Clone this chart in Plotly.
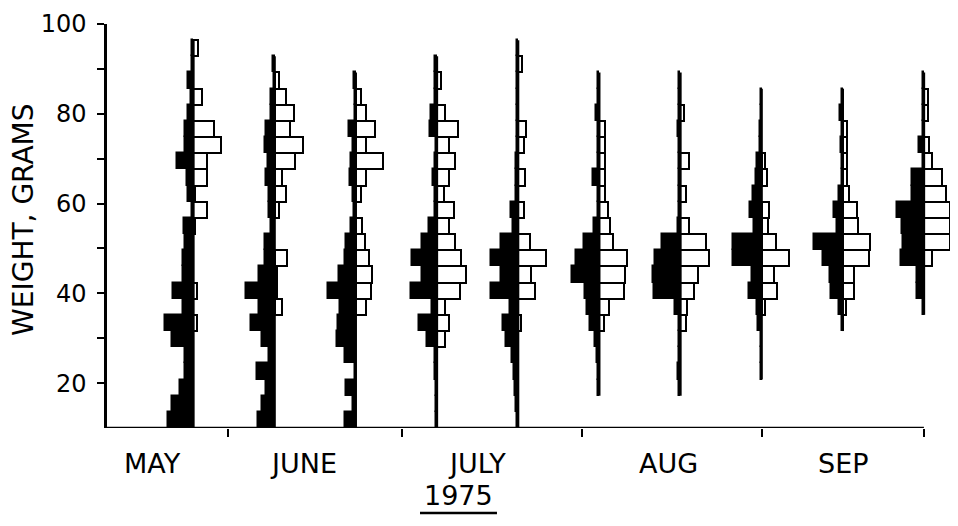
import datetime as dt
import plotly.graph_objects as go

# ---------------- data ----------------
# weight classes (bin centres, grams); each class is 3.6 g wide, starting at 10 g
weight_bins = [11.8, 15.4, 19.0, 22.6, 26.2, 29.8, 33.4, 37.0, 40.6, 44.2,
               47.8, 51.4, 55.0, 58.6, 62.2, 65.8, 69.4, 73.0, 76.6, 80.2,
               83.8, 87.4, 91.0, 94.6, 98.2]
BIN_WIDTH = 3.6

sample_dates = ["1975-05-26", "1975-06-09", "1975-06-23", "1975-07-07", "1975-07-21",
                "1975-08-04", "1975-08-18", "1975-09-01", "1975-09-15", "1975-09-29"]

# relative frequency per weight class (solid = left-hand histogram, open = right-hand)
solid_0526 = [25.7, 21.7, 13.3, 8.3, 8.3, 21.7, 29, 10, 20.7, 10, 10, 8, 9, 1, 5.7, 6.7, 16.7, 8.3, 8.3, 5, 2, 5.7, 1, 1, 0]
open_0526  = [0, 0, 0, 0, 0, 0, 4, 0, 3.3, 0, 0, 0, 1.5, 13.3, 2, 13.3, 13.3, 27.3, 21, 0, 8.3, 0, 0, 4.3, 0]
solid_0609 = [16.7, 12.3, 9, 17.3, 5.7, 12.3, 23.3, 15.7, 29, 15.7, 10, 10, 4, 5.7, 5.7, 9, 6.7, 10, 9, 4, 4, 1, 2, 0, 0]
open_0609  = [0, 0, 0, 0, 0, 0, 0, 7.7, 2.7, 2.7, 12.7, 0, 0, 4.3, 11, 7.7, 21, 28.7, 16, 19.3, 12, 4.3, 0, 0, 0]
solid_0623 = [10.3, 2.7, 9.3, 1, 11, 19.3, 18.3, 16, 27.7, 17, 11, 9.3, 5, 1.7, 2.7, 6, 5, 2.7, 7, 1, 1, 2, 0, 0, 0]
open_0623  = [0, 0, 0, 0, 0, 0, 0, 10.7, 15, 16.3, 13, 9.7, 6.3, 0, 5.7, 10.7, 27.3, 10.7, 19.7, 10.7, 5.7, 0, 0, 0, 0]
solid_0707 = [1, 1, 1, 2, 2.3, 10, 17.7, 5, 25.7, 15, 25, 15, 8.3, 2.3, 2.3, 4.3, 2.3, 1, 6.7, 5.7, 2, 2.3, 2, 0, 0]
open_0707  = [0, 0, 0, 0, 0, 8.3, 12.3, 8.3, 23.3, 29, 24.3, 17.7, 11.7, 16.7, 6.7, 11.7, 17.7, 11.7, 21.7, 7.7, 0, 4, 0, 0, 0]
solid_0721 = [1, 2.3, 3.3, 4.3, 5.7, 11.7, 15, 8.3, 27.7, 16.7, 27.7, 16.7, 5, 6.7, 2, 2, 2, 1, 1, 1, 1, 1, 1, 1, 0]
open_0721  = [0, 0, 0, 0, 0, 0, 3, 0, 16.7, 13.3, 28.3, 11.7, 0, 5.7, 0, 6.7, 0, 5.7, 8.3, 0, 0, 0, 4, 0, 0]
solid_0804 = [0, 0, 1, 1, 2.3, 4, 9.7, 12.3, 14, 27.3, 23, 15.7, 5.7, 1, 1, 6.3, 1, 1, 1, 3.3, 1.3, 1, 0, 0, 0]
open_0804  = [0, 0, 0, 0, 0, 0, 5, 10.3, 25, 26, 28.3, 14.3, 11, 9.3, 6, 6, 6, 6, 6, 0, 0, 0, 0, 0, 0]
solid_0818 = [0, 0, 1, 2.3, 1, 1, 1, 5.7, 26.7, 28, 25.7, 19, 2.3, 1, 1, 1, 1, 1, 2, 1, 1, 1.5, 0, 0, 0]
open_0818  = [0, 0, 0, 0, 0, 0, 5.3, 6.7, 13.3, 17.7, 28.7, 26, 8.7, 0, 6, 0, 9, 0, 0, 4, 0, 0, 0, 0, 0]
solid_0901 = [0, 0, 0, 1, 1, 1, 3.3, 5, 12.7, 9.3, 28.3, 28.3, 8, 11.7, 8.3, 6, 5, 2, 2, 1, 1, 0, 0, 0, 0]
open_0901  = [0, 0, 0, 0, 0, 0, 0, 3.3, 16, 12.7, 27.3, 15, 6.7, 7.3, 0, 5, 3.3, 0, 0, 0, 0, 0, 0, 0, 0]
solid_0915 = [0, 0, 0, 0, 0, 0, 1, 3.3, 11.7, 13.3, 20, 29, 5.7, 9, 3.3, 1, 1, 2, 1, 2.3, 1, 0, 0, 0, 0]
open_0915  = [0, 0, 0, 0, 0, 0, 0, 3.3, 11, 11.7, 26.7, 27.7, 15.7, 14.3, 6.7, 4.3, 4.3, 4.3, 4, 0, 0, 0, 0, 0, 0]
solid_0929 = [0, 0, 0, 0, 0, 0, 0, 1, 6.7, 6.7, 23.3, 20.7, 21.7, 27.3, 11.7, 11.7, 1, 5, 1, 1, 1, 1, 0, 0, 0]
open_0929  = [0, 0, 0, 0, 0, 0, 0, 0, 0, 0, 8.3, 26.7, 26.7, 26.7, 22.7, 18.3, 8.3, 5, 0, 4, 4, 0, 0, 0, 0]

solid_series = [solid_0526, solid_0609, solid_0623, solid_0707, solid_0721,
                solid_0804, solid_0818, solid_0901, solid_0915, solid_0929]
open_series = [open_0526, open_0609, open_0623, open_0707, open_0721,
               open_0804, open_0818, open_0901, open_0915, open_0929]

axis_start = "1975-05-12"
month_boundaries = ["1975-06-01", "1975-07-01", "1975-08-01", "1975-09-01", "1975-09-29"]
month_names = ["MAY", "JUNE", "JULY", "AUG", "SEP"]
month_label_dates = ["1975-05-19", "1975-06-14", "1975-07-14", "1975-08-16", "1975-09-15"]
year_label = "1975"
y_tick_values = [20, 30, 40, 50, 60, 70, 80, 90, 100]
y_tick_text = ["20", "", "40", "", "60", "", "80", "", "100"]

# ---------------- helpers ----------------
ORIGIN = dt.date(1975, 5, 1)


def day_of(s):
    return (dt.date.fromisoformat(s) - ORIGIN).days


FREQ_TO_DAYS = 1 / 5.83  # horizontal scale: frequency unit -> days on the time axis
FONT = "DejaVu Sans"
X0 = day_of(axis_start) - 0.9
X_END = day_of(month_boundaries[-1])

fig = go.Figure()

sy, sx, sb = [], [], []
oy, ox, ob = [], [], []
line_x, line_y = [], []
for date, solid, opn in zip(sample_dates, solid_series, open_series):
    d = day_of(date)
    used = []
    for w, s, o in zip(weight_bins, solid, opn):
        if s > 0:
            sy.append(w); sx.append(s * FREQ_TO_DAYS); sb.append(d - s * FREQ_TO_DAYS)
        if o > 0:
            oy.append(w); ox.append(o * FREQ_TO_DAYS); ob.append(d)
        if s > 0 or o > 0:
            used.append(w)
    line_x += [d, d, None]
    line_y += [min(used) - BIN_WIDTH / 2, max(used) + BIN_WIDTH / 2, None]

fig.add_trace(go.Bar(orientation="h", y=sy, x=sx, base=sb, width=BIN_WIDTH,
                     marker=dict(color="black", line=dict(color="black", width=1.5)),
                     showlegend=False, hoverinfo="skip"))
fig.add_trace(go.Bar(orientation="h", y=oy, x=ox, base=ob, width=BIN_WIDTH,
                     marker=dict(color="white", line=dict(color="black", width=2)),
                     showlegend=False, hoverinfo="skip"))
fig.add_trace(go.Scatter(x=line_x, y=line_y, mode="lines",
                         line=dict(color="black", width=2.5),
                         showlegend=False, hoverinfo="skip"))

annotations = []
for name, ld in zip(month_names, month_label_dates):
    annotations.append(dict(x=day_of(ld), xref="x", y=-0.0891, yref="paper",
                            text=name, showarrow=False, xanchor="center", yanchor="middle",
                            font=dict(family=FONT, size=27, color="black")))
annotations.append(dict(x=0.4164, xref="paper", y=-0.1683, yref="paper", text=year_label,
                        showarrow=False, xanchor="center", yanchor="middle",
                        font=dict(family=FONT, size=27, color="black")))
annotations.append(dict(x=-0.0985, xref="paper", y=0.515, yref="paper", text="WEIGHT, GRAMS",
                        showarrow=False, textangle=-90, xanchor="center", yanchor="middle",
                        font=dict(family=FONT, size=28, color="black")))

fig.update_layout(
    width=942, height=510, autosize=False,
    margin=dict(l=99, r=0, t=16, b=90, autoexpand=False),
    paper_bgcolor="white", plot_bgcolor="white",
    barmode="overlay", bargap=0,
    annotations=annotations,
    shapes=[
        # x axis line ends at the last sampling date
        dict(type="line", xref="x", yref="y", x0=X0, x1=X_END, y0=10, y1=10,
             line=dict(color="black", width=2.5)),
        # underline of the year
        dict(type="line", xref="paper", yref="paper", x0=0.3713, x1=0.4626,
             y0=-0.2104, y1=-0.2104, line=dict(color="black", width=2.5)),
    ],
    xaxis=dict(range=[X0, 155.5], showgrid=False, zeroline=False,
               showline=False, automargin=False,
               tickmode="array", tickvals=[day_of(m) for m in month_boundaries],
               ticks="outside", ticklen=8, tickwidth=2, tickcolor="black",
               showticklabels=False),
    yaxis=dict(range=[10, 100], showgrid=False, zeroline=False,
               showline=True, linecolor="black", linewidth=2.5, automargin=False,
               tickmode="array", tickvals=y_tick_values, ticktext=y_tick_text,
               ticks="outside", ticklen=7, tickwidth=2, tickcolor="black",
               ticklabelstandoff=6, ticklabeloverflow="allow",
               tickfont=dict(family=FONT, size=24, color="black")),
)

fig.write_html("out.html")
